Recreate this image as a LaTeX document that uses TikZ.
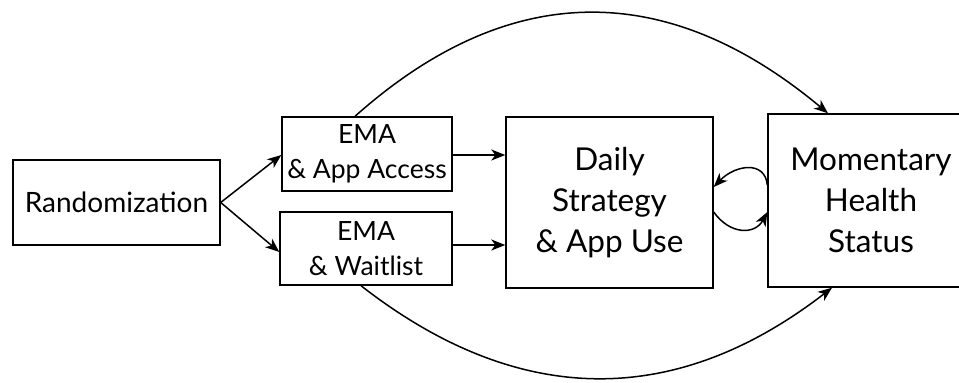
\documentclass[tikz,border=0pt]{standalone}
\usepackage{fontspec}
\setmainfont{Lato}
\usetikzlibrary{arrows.meta}
\tikzset{
  box/.style={draw, line width=1.4pt, align=center, inner sep=0pt},
  randfont/.style={font=\fontsize{28}{35}\selectfont},
  smallfont/.style={font=\fontsize{26.5}{35}\selectfont},
  bigfont/.style={font=\fontsize{31.5}{41}\selectfont},
  conn/.style={line width=1.5pt, -{Stealth[length=14pt,width=11pt,inset=4pt]}}
}
\begin{document}
\begin{tikzpicture}[x=1pt,y=-1pt]
\clip (0,0) rectangle (959,383);
\node[box, randfont, minimum width=207pt, minimum height=85pt] (rand) at (116.5,202.5) {Randomization};
\node[box, smallfont, minimum width=170pt, minimum height=74pt] (app) at (367,154) {EMA\\\& App Access};
\node[box, smallfont, minimum width=172pt, minimum height=73pt] (wait) at (366,248.5) {EMA\\\& Waitlist};
\node[box, bigfont, minimum width=207pt, minimum height=171pt] (daily) at (609.5,202.5) {Daily\\Strategy\\\& App Use};
\node[box, bigfont, minimum width=206pt, minimum height=173pt] (mom) at (871,200.5) {Momentary\\Health\\Status};
\coordinate (rout) at (rand.east);
\draw[conn] (rout) -- (app.west |- 0,155);
\draw[conn] (rout) -- (wait.west |- 0,252);
\draw[conn] (app.east |- 0,155) -- (daily.west |- 0,155);
\draw[conn] (wait.east |- 0,245) -- (daily.west |- 0,245);
\draw[conn] (app.north -| 355,0) .. controls (508,-20) and (666,-22) .. (mom.north -| 828,0);
\draw[conn] (wait.south -| 361,0) .. controls (518,408) and (675,409) .. (mom.south -| 832,0);
\draw[conn] (mom.west |- 0,185) .. controls (765,160) and (735,165) .. (daily.east |- 0,187);
\draw[conn] (daily.east |- 0,212) .. controls (730,235) and (755,235) .. (mom.west |- 0,212);
\end{tikzpicture}
\end{document}
